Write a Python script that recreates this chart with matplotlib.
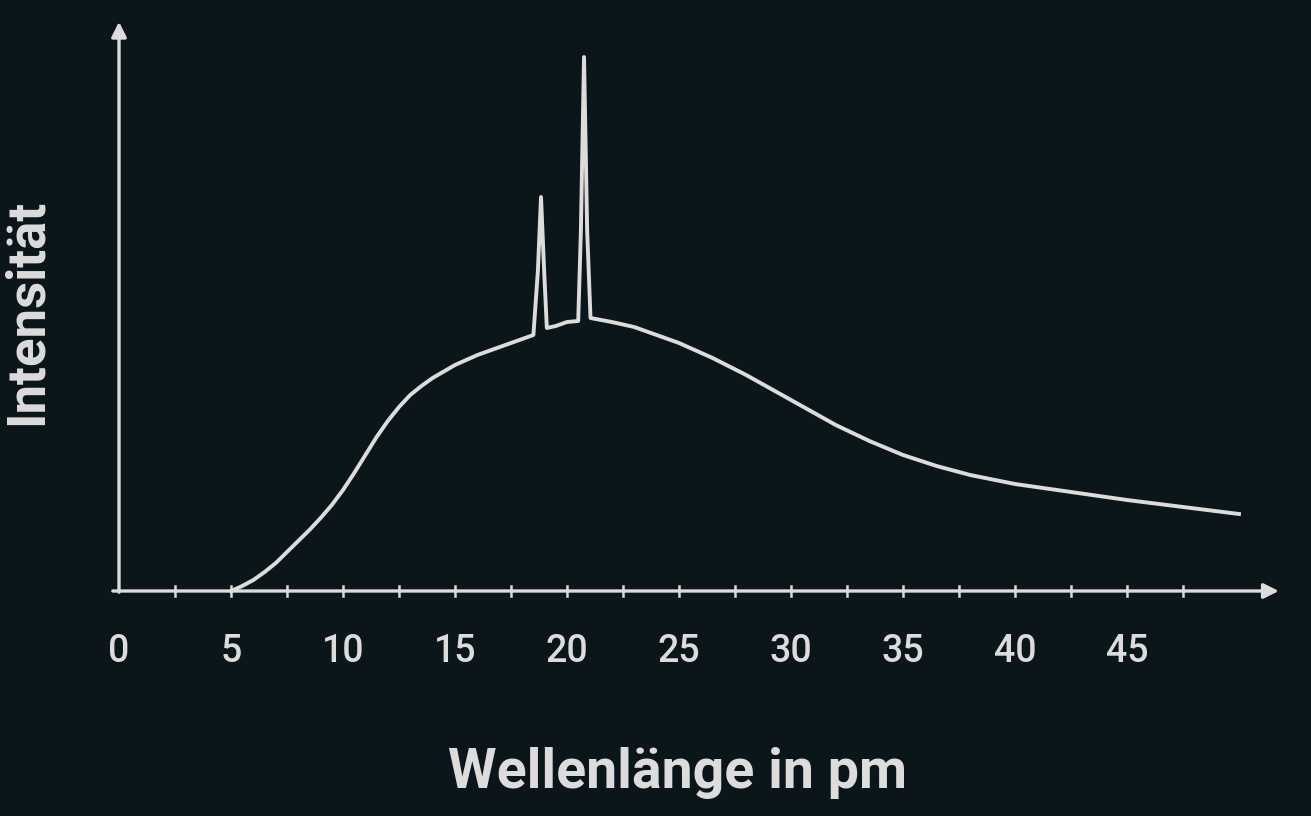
import matplotlib
matplotlib.use("Agg")
import matplotlib.pyplot as plt
import numpy as np

plt.rcParams['font.family'] = ['Roboto', 'DejaVu Sans']

wavelength = [5, 5.5, 6, 6.5, 7, 7.5, 8, 8.5, 9, 9.5, 10, 10.5, 11, 11.5, 12, 12.5, 13, 13.5, 14, 15, 16, 17, 18, 18.5, 18.7, 18.84, 18.98, 19.1, 19.5, 20, 20.5, 20.62, 20.76, 20.9, 21.05, 22, 23, 24, 25, 26.5, 28, 30, 32, 33.5, 35, 36.5, 38, 40, 42.5, 45, 47.5, 50]
intensity = [0, 5, 11, 19, 28, 39, 50, 61, 73, 86, 101, 118, 136, 154, 170, 184, 196, 205, 213, 226, 236, 244, 252, 256, 320, 394, 320, 263, 265, 269, 270, 360, 534, 360, 273, 269, 264, 256, 248, 233, 216, 191, 166, 150, 136, 125, 116, 107, 99, 91, 84, 77]
tick_labels = ["0", "5", "10", "15", "20", "25", "30", "35", "40", "45"]
tick_values = [0, 5, 10, 15, 20, 25, 30, 35, 40, 45]

bg = "#0b161a"
fg = "#dcdcdc"
fig = plt.figure(figsize=(13.11, 8.16), dpi=100, facecolor=bg)
ax = fig.add_axes([0, 0, 1, 1], facecolor=bg)
px = 22.4
ax.set_xlim(-119 / px, (1311 - 119) / px)
ax.set_ylim(-225, 591)
ax.axis("off")

ax.annotate("", xy=(51.9, 0), xytext=(-0.4, 0),
            arrowprops=dict(arrowstyle="-|>,head_length=0.9,head_width=0.45", color=fg, lw=2.4))
ax.annotate("", xy=(0, 572), xytext=(0, -4),
            arrowprops=dict(arrowstyle="-|>,head_length=0.9,head_width=0.45", color=fg, lw=2.4))
for t in np.arange(2.5, 50, 2.5):
    ax.plot([t, t], [-5, 5], color=fg, lw=1.8)
for v, lab in zip(tick_values, tick_labels):
    ax.text(v, -60, lab, color=fg, fontsize=27, fontweight="medium", ha="center", va="center")

ax.plot(wavelength, intensity, color=fg, lw=2.8, solid_joinstyle="round")

ax.text(678 / 1311, 43 / 816, "Wellenlänge in pm", transform=fig.transFigure, color=fg,
        fontsize=40, fontweight="bold", ha="center", va="center")
ax.text(27 / 1311, 1 - 312 / 816, "Intensität", transform=fig.transFigure, color=fg,
        fontsize=38, fontweight="bold", ha="center", va="center", rotation=90)

fig.savefig("out.png", dpi=100, facecolor=bg)
